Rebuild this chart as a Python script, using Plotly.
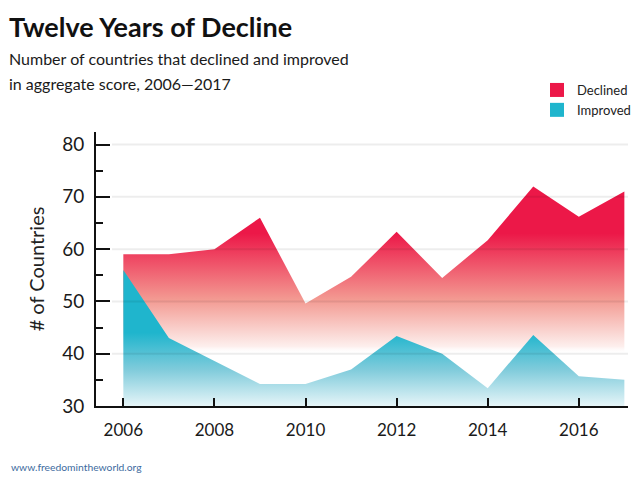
import plotly.graph_objects as go

years = [2006, 2007, 2008, 2009, 2010, 2011, 2012, 2013, 2014, 2015, 2016, 2017]
declined = [59, 59, 60, 66, 49.6, 54.7, 63.3, 54.5, 61.7, 72, 66.2, 71]
improved = [56, 43, 38.6, 34.2, 34.2, 37, 43.4, 40, 33.4, 43.6, 35.7, 35]
x_ticks = [2006, 2008, 2010, 2012, 2014, 2016]
y_ticks = [30, 40, 50, 60, 70, 80]
grid_vals = [40, 50, 60, 70, 80]

RED = "#EC1848"
TEAL = "#1FB5CD"
FONT = "Lato"

# page has an 8px body margin: work in page pixels, convert to figure pixels
OFF = 8
W, H = 640 - OFF, 485 - OFF
L, R, T, B = 96 - OFF, 628 - OFF, 132 - OFF, 406 - OFF


def px(xpage):
    return (xpage - OFF - L) / (R - L)


def py(ypage):
    return (B - (ypage - OFF)) / (B - T)


fig = go.Figure()

fig.add_trace(go.Scatter(
    x=years, y=declined, mode="lines", line=dict(width=0, color=RED),
    fill="tozeroy",
    fillgradient=dict(type="vertical", start=40, stop=63,
                      colorscale=[[0, "rgba(255,255,255,0)"], [0.06, "#FDEFED"],
                                  [0.45, "#F39A92"], [1, RED]]),
    showlegend=False, hoverinfo="skip"))

fig.add_trace(go.Scatter(
    x=years, y=improved, mode="lines", line=dict(width=0, color=TEAL),
    fill="tozeroy",
    fillgradient=dict(type="vertical", start=30, stop=44,
                      colorscale=[[0, "#E6F5F8"], [0.5, "#7FCBDB"], [1, TEAL]]),
    showlegend=False, hoverinfo="skip"))

fig.add_trace(go.Scatter(x=[None], y=[None], mode="markers", name="Declined",
                         marker=dict(symbol="square", size=14, color=RED)))
fig.add_trace(go.Scatter(x=[None], y=[None], mode="markers", name="Improved",
                         marker=dict(symbol="square", size=14, color=TEAL)))

shapes = []
for g in grid_vals:
    shapes.append(dict(type="line", xref="paper", yref="y", x0=px(112), x1=1,
                       y0=g, y1=g, line=dict(color="rgba(0,0,0,0.07)", width=2),
                       layer="above"))

fig.update_layout(
    width=W, height=H,
    margin=dict(l=L, r=W - R, t=T, b=H - B, autoexpand=False),
    paper_bgcolor="white", plot_bgcolor="white",
    font=dict(family=FONT, color="#1a1a1a"),
    xaxis=dict(range=[2005.4, 2017.08], tickvals=x_ticks, showgrid=False, zeroline=False,
               showline=True, linecolor="#111111", linewidth=2, automargin=False,
               ticks="inside", ticklen=8, tickwidth=2, tickcolor="#111111",
               tickfont=dict(size=17, color="#1a1a1a"), ticklabelstandoff=8),
    yaxis=dict(range=[30, 82.4], tickvals=y_ticks, showgrid=False, zeroline=False,
               showline=True, linecolor="#111111", linewidth=2, automargin=False,
               ticks="inside", ticklen=14, tickwidth=2, tickcolor="#111111",
               minor=dict(tickvals=[35, 45, 55, 65, 75], ticks="inside", ticklen=7,
                          tickwidth=2, tickcolor="#111111"),
               tickfont=dict(size=19, color="#1a1a1a"), ticklabelstandoff=6,
               title=dict(text="# of Countries", font=dict(size=20, color="#222222"),
                          standoff=12)),
    legend=dict(x=px(537), y=py(75), xanchor="left", yanchor="top",
                font=dict(size=13, color="#222222"), bgcolor="rgba(0,0,0,0)",
                itemwidth=30, tracegroupgap=2),
    shapes=shapes,
    annotations=[
        dict(text="<b>Twelve Years of Decline</b>",
             xref="paper", yref="paper", x=px(6.5), y=py(8), xanchor="left", yanchor="top",
             align="left", showarrow=False, font=dict(size=27, color="#111111")),
        dict(text="Number of countries that declined and improved",
             xref="paper", yref="paper", x=px(7), y=py(47), xanchor="left", yanchor="top",
             align="left", showarrow=False, font=dict(size=16, color="#1a1a1a")),
        dict(text="in aggregate score, 2006\u20142017",
             xref="paper", yref="paper", x=px(7), y=py(72), xanchor="left", yanchor="top",
             align="left", showarrow=False, font=dict(size=16, color="#1a1a1a")),
        dict(text="www.freedomintheworld.org", xref="paper", yref="paper",
             x=px(9), y=py(467), xanchor="left", yanchor="middle", showarrow=False,
             font=dict(size=10.3, color="#3D6BA0")),
    ],
)

fig.write_html("out.html")
